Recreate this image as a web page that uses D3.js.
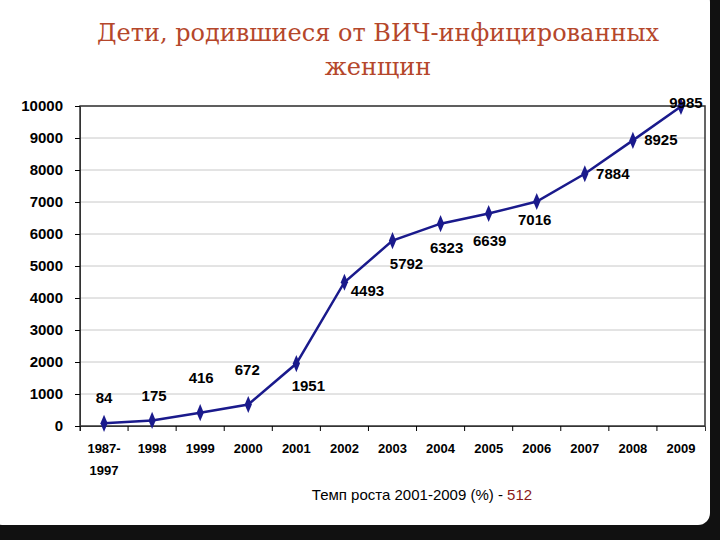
<!DOCTYPE html>
<html><head><meta charset="utf-8">
<script src="https://cdn.jsdelivr.net/npm/d3@7"></script>
<style>body{margin:0;background:#000;}</style>
</head><body>
<script>
var w = 720, h = 540;

var categories = ["1987-1997","1998","1999","2000","2001","2002","2003","2004","2005","2006","2007","2008","2009"];
var values = [84,175,416,672,1951,4493,5792,6323,6639,7016,7884,8925,9985];
var yTicks = [0,1000,2000,3000,4000,5000,6000,7000,8000,9000,10000];
// label offsets from each point [dx, dy]
var labelOffsets = [[0,-25],[2,-24],[1,-35],[-1,-34],[12,22],[23,9],[14,23],[6,24],[1,27],[-2,19],[28,0],[28,0],[5,-3]];

var svg = d3.select("body").append("svg").attr("width", w).attr("height", h);

// slide card
svg.append("rect").attr("x",0).attr("y",0).attr("width",w).attr("height",h).attr("fill","#111");
svg.append("rect").attr("x",-10).attr("y",-10).attr("width",720).attr("height",535).attr("rx",12).attr("fill","#fff");

// title
svg.append("text").attr("x",378).attr("y",41).attr("text-anchor","middle")
   .attr("font-family","DejaVu Serif, serif").attr("font-size","24px").attr("fill","#b5472b")
   .text("Дети, родившиеся от ВИЧ-инфицированных");
svg.append("text").attr("x",378).attr("y",75).attr("text-anchor","middle")
   .attr("font-family","DejaVu Serif, serif").attr("font-size","24px").attr("fill","#b5472b")
   .text("женщин");

var pLeft = 80, pRight = 705, pTop = 106, pBottom = 426;

var xScale = d3.scaleBand().domain(categories).range([pLeft, pRight]);
var yScale = d3.scaleLinear().domain([0, 10000]).range([pBottom, pTop]);

// grid
svg.selectAll(".grid").data(yTicks.slice(1)).enter().append("line")
   .attr("x1", pLeft).attr("x2", pRight)
   .attr("y1", function(d){ return yScale(d); }).attr("y2", function(d){ return yScale(d); })
   .attr("stroke","#c8c8c8").attr("stroke-width",1);

svg.append("rect").attr("x",pLeft).attr("y",pTop).attr("width",pRight-pLeft).attr("height",pBottom-pTop)
   .attr("fill","none").attr("stroke","#333").attr("stroke-width",1.5);

var yAxis = d3.axisLeft(yScale).tickValues(yTicks).tickSize(5).tickFormat(d3.format("d"));
var gy = svg.append("g").attr("transform","translate("+pLeft+",0)").call(yAxis);
gy.selectAll("text").attr("font-family","Liberation Sans, Arial").attr("font-weight","bold")
  .attr("font-size","15px").attr("fill","#000").attr("x",-17);
gy.select(".domain").attr("stroke","#333");

var xAxis = d3.axisBottom(xScale).tickSize(5).tickFormat("");
var gx = svg.append("g").attr("transform","translate(0,"+pBottom+")").call(xAxis);
gx.selectAll(".tick line").attr("transform","translate("+(-xScale.bandwidth()/2)+",0)");
gx.select(".domain").attr("stroke","#333");

svg.selectAll(".xlab").data(categories).enter().append("text")
   .attr("x", function(d){ return xScale(d) + xScale.bandwidth()/2; })
   .attr("y", 453).attr("text-anchor","middle")
   .attr("font-family","Liberation Sans, Arial").attr("font-weight","bold").attr("font-size","13px")
   .each(function(d){
     var parts = d.indexOf("-") > 0 ? [d.split("-")[0]+"-", d.split("-")[1]] : [d];
     var t = d3.select(this);
     parts.forEach(function(p,i){
       t.append("tspan").attr("x", xScale(d) + xScale.bandwidth()/2).attr("dy", i ? 22 : 0).text(p);
     });
   });

var line = d3.line()
  .x(function(d,i){ return xScale(categories[i]) + xScale.bandwidth()/2; })
  .y(function(d){ return yScale(d); });
svg.append("path").datum(values).attr("d", line).attr("fill","none").attr("stroke","#1a1a8c").attr("stroke-width",2.5);

svg.selectAll(".pt").data(values).enter().append("path")
   .attr("d", d3.symbol().type(d3.symbolDiamond).size(70))
   .attr("transform", function(d,i){
     return "translate("+(xScale(categories[i]) + xScale.bandwidth()/2)+","+yScale(d)+") scale(0.8,1.1)";
   })
   .attr("fill","#1a1a8c");

svg.selectAll(".vl").data(values).enter().append("text")
   .attr("x", function(d,i){ return xScale(categories[i]) + xScale.bandwidth()/2 + labelOffsets[i][0]; })
   .attr("y", function(d,i){ return yScale(d) + labelOffsets[i][1] + 5; })
   .attr("text-anchor","middle")
   .attr("font-family","Liberation Sans, Arial").attr("font-weight","bold").attr("font-size","15px")
   .text(function(d){ return d; });

var note = svg.append("text").attr("x",422).attr("y",500).attr("text-anchor","middle")
   .attr("font-family","Liberation Sans, Arial").attr("font-size","15px");
note.append("tspan").text("Темп роста 2001-2009 (%) - ");
note.append("tspan").attr("fill","#8b1a1a").text("512");
</script>
</body></html>
